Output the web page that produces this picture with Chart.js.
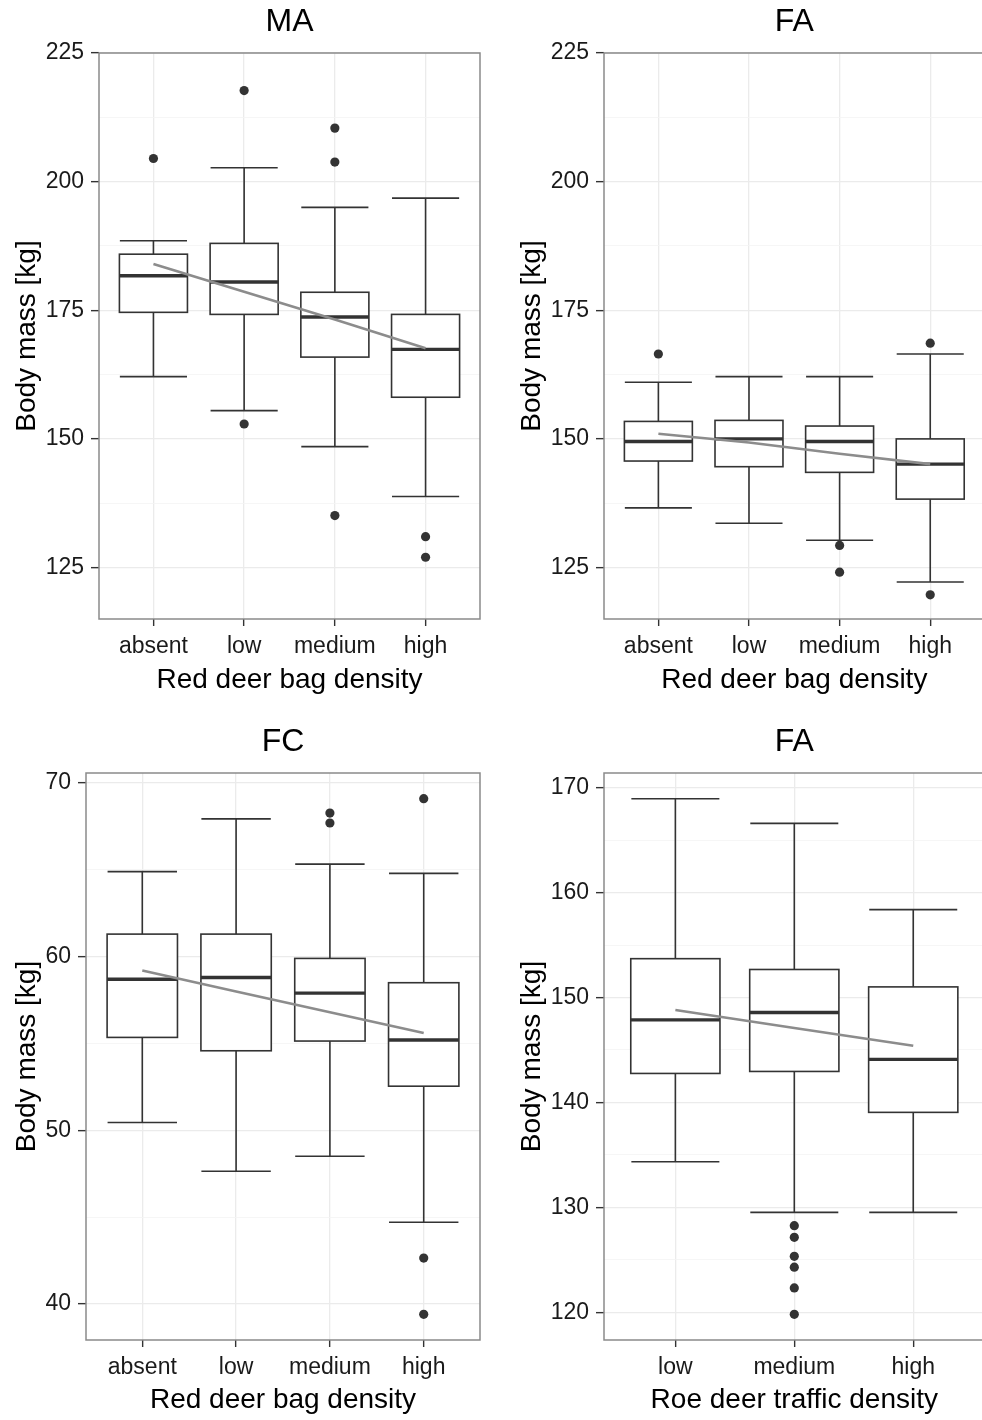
<!DOCTYPE html>
<html lang="en">
<head>
  <meta charset="UTF-8" />
  <title>Body mass by deer density</title>
  <style>
    html, body { margin: 0; padding: 0; background: #fff; overflow: hidden; }
    .page { position: relative; width: 982px; height: 1420px; }
    .page canvas { position: absolute; }
    #maChart { left: 0; top: 0; }
    #faRedChart { left: 505px; top: 0; }
    #fcChart { left: 0; top: 720px; }
    #faRoeChart { left: 505px; top: 720px; }
  </style>
</head>
<body>
  <div class="page">
    <canvas id="maChart" width="491" height="700"></canvas>
    <canvas id="faRedChart" width="490" height="700"></canvas>
    <canvas id="fcChart" width="491" height="700"></canvas>
    <canvas id="faRoeChart" width="490" height="700"></canvas>
  </div>

  <script src="https://cdn.jsdelivr.net/npm/chart.js"></script>
  <script>
    const redDeerLevels = ['absent', 'low', 'medium', 'high'];
    const roeDeerLevels = ['low', 'medium', 'high'];

    // MA - red deer bag density
    const maLower = [162.1, 155.5, 148.5, 138.8];
    const maQ1 = [174.6, 174.2, 165.9, 158.1];
    const maMedian = [181.7, 180.5, 173.7, 167.4];
    const maQ3 = [185.9, 188.0, 178.5, 174.2];
    const maUpper = [188.5, 202.7, 195.0, 196.8];
    const maOutliers = [[204.5], [217.7, 152.9], [210.4, 203.8, 135.1], [131.0, 127.0]];
    const maTrend = [184.0, 178.6, 173.2, 167.6];

    // FA - red deer bag density
    const faRedLower = [136.6, 133.6, 130.3, 122.2];
    const faRedQ1 = [145.7, 144.6, 143.5, 138.3];
    const faRedMedian = [149.5, 150.0, 149.5, 145.1];
    const faRedQ3 = [153.4, 153.6, 152.5, 150.0];
    const faRedUpper = [161.0, 162.1, 162.1, 166.5];
    const faRedOutliers = [[166.5], [], [129.3, 124.1], [168.6, 119.7]];
    const faRedTrend = [151.0, 149.3, 147.1, 145.1];

    // FC - red deer bag density
    const fcLower = [50.45, 47.64, 48.5, 44.7];
    const fcQ1 = [55.35, 54.58, 55.14, 52.54];
    const fcMedian = [58.7, 58.8, 57.9, 55.2];
    const fcQ3 = [61.3, 61.3, 59.9, 58.5];
    const fcUpper = [64.9, 67.94, 65.33, 64.8];
    const fcOutliers = [[], [], [68.27, 67.7], [69.1, 42.64, 39.4]];
    const fcTrend = [59.2, 58.0, 56.8, 55.6];

    // FA - roe deer traffic density
    const faRoeLower = [134.34, 129.52, 129.52];
    const faRoeQ1 = [142.76, 142.95, 139.05];
    const faRoeMedian = [147.87, 148.57, 144.1];
    const faRoeQ3 = [153.7, 152.67, 151.01];
    const faRoeUpper = [168.95, 166.6, 158.38];
    const faRoeOutliers = [[], [128.25, 127.14, 125.33, 124.29, 122.31, 119.8], []];
    const faRoeTrend = [148.8, 147.1, 145.4];

    // y axis ticks
    const maTicks = [125, 150, 175, 200, 225];
    const maMinor = [137.5, 162.5, 187.5, 212.5];
    const fcTicks = [40, 50, 60, 70];
    const fcMinor = [45, 55, 65];
    const faRoeTicks = [120, 130, 140, 150, 160, 170];
    const faRoeMinor = [125, 135, 145, 155, 165];

    const fontFamily = "'Liberation Sans', Arial, sans-serif";
    Chart.defaults.font.family = fontFamily;

    // boxes, whiskers and medians drawn under the datasets,
    // panel border and panel title on top
    const boxPlot = {
      id: 'boxPlot',
      beforeDatasetsDraw(chart, args, opts) {
        const { ctx, scales: { x, y } } = chart;
        ctx.save();
        ctx.strokeStyle = '#333';
        ctx.lineWidth = 1.6;
        opts.q1.forEach((q1, i) => {
          const cx = x.getPixelForValue(i + 1);
          const bl = x.getPixelForValue(i + 1 - opts.width / 2);
          const br = x.getPixelForValue(i + 1 + opts.width / 2);
          const cl = x.getPixelForValue(i + 1 - opts.capWidth / 2);
          const cr = x.getPixelForValue(i + 1 + opts.capWidth / 2);
          const yLo = y.getPixelForValue(opts.lower[i]);
          const yQ1 = y.getPixelForValue(q1);
          const yMed = y.getPixelForValue(opts.median[i]);
          const yQ3 = y.getPixelForValue(opts.q3[i]);
          const yHi = y.getPixelForValue(opts.upper[i]);

          ctx.beginPath();
          ctx.moveTo(cl, yLo); ctx.lineTo(cr, yLo);
          ctx.moveTo(cl, yHi); ctx.lineTo(cr, yHi);
          ctx.moveTo(cx, yLo); ctx.lineTo(cx, yQ1);
          ctx.moveTo(cx, yHi); ctx.lineTo(cx, yQ3);
          ctx.stroke();

          ctx.fillStyle = '#fff';
          ctx.fillRect(bl, yQ3, br - bl, yQ1 - yQ3);
          ctx.strokeRect(bl, yQ3, br - bl, yQ1 - yQ3);

          ctx.save();
          ctx.lineWidth = 3.4;
          ctx.beginPath();
          ctx.moveTo(bl, yMed); ctx.lineTo(br, yMed);
          ctx.stroke();
          ctx.restore();
        });
        ctx.restore();
      },
      afterDraw(chart, args, opts) {
        const { ctx, chartArea: a } = chart;
        ctx.save();
        ctx.strokeStyle = '#8a8a8a';
        ctx.lineWidth = 1.5;
        ctx.strokeRect(a.left, a.top, a.right - a.left, a.bottom - a.top);

        ctx.fillStyle = '#000';
        ctx.font = '32px ' + fontFamily;
        ctx.textAlign = 'center';
        ctx.textBaseline = 'middle';
        ctx.fillText(opts.title, (a.left + a.right) / 2, 22);
        ctx.restore();
      }
    };

    function drawPanel(id, o) {
      const n = o.levels.length;
      const points = [];
      o.outliers.forEach((list, i) => list.forEach(v => points.push({ x: i + 1, y: v })));
      const yTicks = o.ticks.concat(o.minor).sort((a, b) => a - b);
      const isMajor = v => o.ticks.includes(v);

      return new Chart(document.getElementById(id), {
        type: 'scatter',
        data: {
          datasets: [
            {
              type: 'line',
              data: o.trend.map((v, i) => ({ x: i + 1, y: v })),
              borderColor: '#8c8c8c',
              borderWidth: 2.6,
              pointRadius: 0,
              tension: 0
            },
            {
              data: points,
              pointRadius: 4.6,
              backgroundColor: '#333',
              borderWidth: 0
            }
          ]
        },
        options: {
          responsive: false,
          animation: false,
          events: [],
          layout: { padding: { top: 53, right: o.padRight } },
          plugins: {
            legend: { display: false },
            tooltip: { enabled: false },
            title: { display: false },
            boxPlot: {
              title: o.title,
              width: 0.75, capWidth: 0.74,
              lower: o.lower, q1: o.q1, median: o.median, q3: o.q3, upper: o.upper
            }
          },
          scales: {
            x: {
              type: 'linear',
              min: 0.4,
              max: n + 0.6,
              afterBuildTicks: s => { s.ticks = o.levels.map((_, i) => ({ value: i + 1 })); },
              afterFit: s => { s.height = o.xHeight; },
              ticks: {
                autoSkip: false,
                maxRotation: 0,
                padding: 6.5,
                color: '#1a1a1a',
                font: { size: 23 },
                callback: v => o.levels[v - 1]
              },
              grid: {
                color: '#ebebeb',
                lineWidth: 1.3,
                tickLength: 7,
                tickColor: '#333',
                tickWidth: 1.4
              },
              border: { display: false },
              title: {
                display: true,
                text: o.xTitle,
                color: '#000',
                font: { size: 28 },
                padding: { top: 0, bottom: 3.2 }
              }
            },
            y: {
              min: o.yMin,
              max: o.yMax,
              afterBuildTicks: s => { s.ticks = yTicks.map(v => ({ value: v })); },
              afterFit: s => { s.width = o.yWidth; },
              ticks: {
                autoSkip: false,
                padding: 7,
                color: '#1a1a1a',
                font: { size: 23 },
                callback: v => isMajor(v) ? v : ''
              },
              grid: {
                color: c => isMajor(c.tick.value) ? '#ebebeb' : '#f4f4f4',
                lineWidth: c => isMajor(c.tick.value) ? 1.3 : 0.8,
                tickLength: 8,
                tickColor: c => isMajor(c.tick.value) ? '#333' : 'rgba(0,0,0,0)',
                tickWidth: 1.4
              },
              border: { display: false },
              title: {
                display: true,
                text: 'Body mass [kg]',
                color: '#000',
                font: { size: 28 },
                padding: { top: 10.2, bottom: 0 }
              }
            }
          }
        },
        plugins: [boxPlot]
      });
    }

    drawPanel('maChart', {
      title: 'MA', levels: redDeerLevels, xTitle: 'Red deer bag density',
      lower: maLower, q1: maQ1, median: maMedian, q3: maQ3, upper: maUpper,
      outliers: maOutliers, trend: maTrend,
      ticks: maTicks, minor: maMinor, yMin: 115, yMax: 225,
      yWidth: 99, xHeight: 81, padRight: 11
    });

    drawPanel('faRedChart', {
      title: 'FA', levels: redDeerLevels, xTitle: 'Red deer bag density',
      lower: faRedLower, q1: faRedQ1, median: faRedMedian, q3: faRedQ3, upper: faRedUpper,
      outliers: faRedOutliers, trend: faRedTrend,
      ticks: maTicks, minor: maMinor, yMin: 115, yMax: 225,
      yWidth: 99, xHeight: 81, padRight: 10.4
    });

    drawPanel('fcChart', {
      title: 'FC', levels: redDeerLevels, xTitle: 'Red deer bag density',
      lower: fcLower, q1: fcQ1, median: fcMedian, q3: fcQ3, upper: fcUpper,
      outliers: fcOutliers, trend: fcTrend,
      ticks: fcTicks, minor: fcMinor, yMin: 37.92, yMax: 70.58,
      yWidth: 86, xHeight: 80, padRight: 11
    });

    drawPanel('faRoeChart', {
      title: 'FA', levels: roeDeerLevels, xTitle: 'Roe deer traffic density',
      lower: faRoeLower, q1: faRoeQ1, median: faRoeMedian, q3: faRoeQ3, upper: faRoeUpper,
      outliers: faRoeOutliers, trend: faRoeTrend,
      ticks: faRoeTicks, minor: faRoeMinor, yMin: 117.35, yMax: 171.4,
      yWidth: 99, xHeight: 80, padRight: 10.4
    });
  </script>
</body>
</html>
